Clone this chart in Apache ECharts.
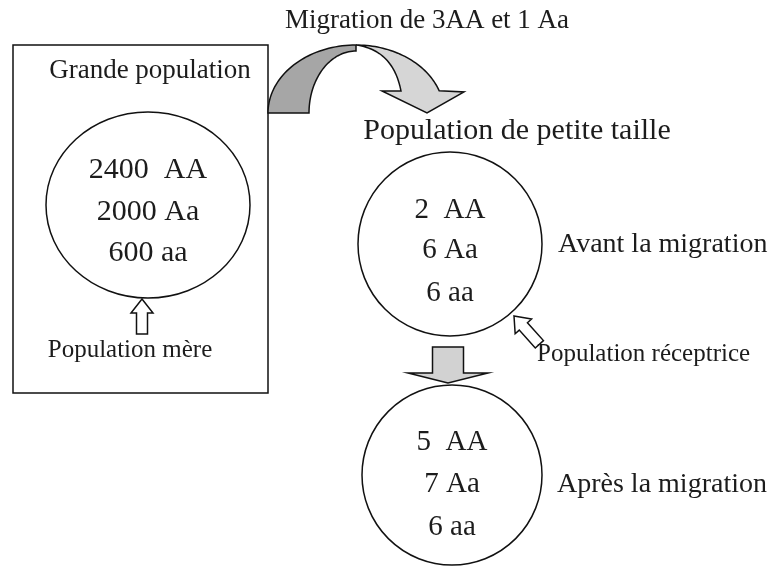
<!DOCTYPE html>
<html>
<head>
<meta charset="utf-8">
<script src="https://cdn.jsdelivr.net/npm/echarts@6/dist/echarts.min.js"></script>
<style>
  html, body { margin: 0; padding: 0; background: #fff; }
  #main { width: 772px; height: 568px; }
</style>
</head>
<body>
<div id="main"></div>
<script>
// données du schéma
const genotypes = ["AA", "Aa", "aa"];
const parentCounts = [2400, 2000, 600];   // population mère
const beforeCounts = [2, 6, 6];           // avant la migration
const afterCounts = [5, 7, 6];            // après la migration
const migrants = [3, 1];                  // AA, Aa migrants
const labels = {
  big: "Grande population",
  small: "Population de petite taille",
  mother: "Population mère",
  receiver: "Population réceptrice",
  before: "Avant la migration",
  after: "Après la migration"
};

const FONT = "Liberation Serif, Times New Roman, serif";
const INK = "#1c1c1c";

// texte "2400  AA" etc.
const fmt = (n, g) => n + (g === "AA" ? "  " : " ") + g;

// points d'un arc d'ellipse (angles en degrés, sens trigo, y vers le haut)
function arcPts(cx, cy, rx, ry, a0, a1, n) {
  const pts = [];
  for (let i = 0; i <= n; i++) {
    const a = (a0 + (a1 - a0) * i / n) * Math.PI / 180;
    pts.push([cx + rx * Math.cos(a), cy - ry * Math.sin(a)]);
  }
  return pts;
}

function quadPts(p0, c, p1, n) {
  const pts = [];
  for (let i = 0; i <= n; i++) {
    const t = i / n, u = 1 - t;
    pts.push([u * u * p0[0] + 2 * u * t * c[0] + t * t * p1[0],
              u * u * p0[1] + 2 * u * t * c[1] + t * t * p1[1]]);
  }
  return pts;
}

// flèche pleine : pointe, direction, longueur totale, tête, largeurs
function blockArrow(tip, dir, len, headLen, headW, shaftW) {
  const m = Math.hypot(dir[0], dir[1]);
  const d = [dir[0] / m, dir[1] / m];
  const p = [-d[1], d[0]];
  const at = (back, side) => [tip[0] - d[0] * back + p[0] * side, tip[1] - d[1] * back + p[1] * side];
  return [
    tip,
    at(headLen, headW / 2),
    at(headLen, shaftW / 2),
    at(len, shaftW / 2),
    at(len, -shaftW / 2),
    at(headLen, -shaftW / 2),
    at(headLen, -headW / 2)
  ];
}

function txt(x, y, text, size, align) {
  return {
    type: "text", x: x, y: y,
    style: {
      text: text, fill: INK, font: size + "px " + FONT,
      textAlign: align || "center", textVerticalAlign: "middle"
    }
  };
}

function circleLines(cx, ys, counts, size) {
  return counts.map((c, i) => txt(cx, ys[i], fmt(c, genotypes[i]), size));
}

// flèche courbe (migration)
const ac = [356, 113];
const darkPts = arcPts(ac[0], ac[1], 88, 68, 180, 90, 40)
  .concat(arcPts(ac[0], ac[1], 47, 62, 90, 180, 40));
const lightPts = arcPts(ac[0], ac[1], 88, 68, 90, 19, 40)
  .concat([[464, 92], [427, 113], [382, 91]])
  .concat(quadPts([401, 91], [393, 50], [356, 45], 30));

const stroke = { stroke: "#111", lineWidth: 1.5 };

const graphic = [
  // cadre grande population
  { type: "rect", shape: { x: 13, y: 45, width: 255, height: 348 },
    style: Object.assign({ fill: "#fff" }, stroke) },
  { type: "ellipse", shape: { cx: 148, cy: 205, rx: 102, ry: 93 },
    style: Object.assign({ fill: "none" }, stroke) },
  txt(150, 71, labels.big, 27),
  ...circleLines(148, [170, 212, 253], parentCounts, 30),
  { type: "polygon", shape: { points: blockArrow([142, 299], [0, -1], 35, 14, 22, 11) },
    style: Object.assign({ fill: "#fff" }, stroke) },
  txt(130, 350, labels.mother, 25),

  // flèche de migration
  { type: "polygon", shape: { points: darkPts }, style: Object.assign({ fill: "#a6a6a6" }, stroke) },
  { type: "polygon", shape: { points: lightPts }, style: Object.assign({ fill: "#d6d6d6" }, stroke) },
  txt(427, 21, "Migration de " + migrants[0] + "AA et " + migrants[1] + " Aa", 27),

  // petite population
  txt(517, 131, labels.small, 30),
  { type: "circle", shape: { cx: 450, cy: 244, r: 92 },
    style: Object.assign({ fill: "none" }, stroke) },
  ...circleLines(450, [210, 250, 293], beforeCounts, 29),
  txt(558, 245, labels.before, 28, "left"),
  { type: "polygon", shape: { points: blockArrow([514, 316], [-26, -29], 38, 14, 22, 11) },
    style: Object.assign({ fill: "#fff" }, stroke) },
  txt(537, 354, labels.receiver, 25, "left"),

  { type: "polygon", shape: { points: blockArrow([448, 383], [0, 1], 36, 10, 80, 31) },
    style: Object.assign({ fill: "#d2d2d2" }, stroke) },

  { type: "circle", shape: { cx: 452, cy: 475, r: 90 },
    style: Object.assign({ fill: "none" }, stroke) },
  ...circleLines(452, [442, 484, 527], afterCounts, 29),
  txt(557, 485, labels.after, 28, "left")
];

const chart = echarts.init(document.getElementById("main"));
chart.setOption({
  backgroundColor: "#fff",
  animation: false,
  graphic: graphic
});
</script>
</body>
</html>
